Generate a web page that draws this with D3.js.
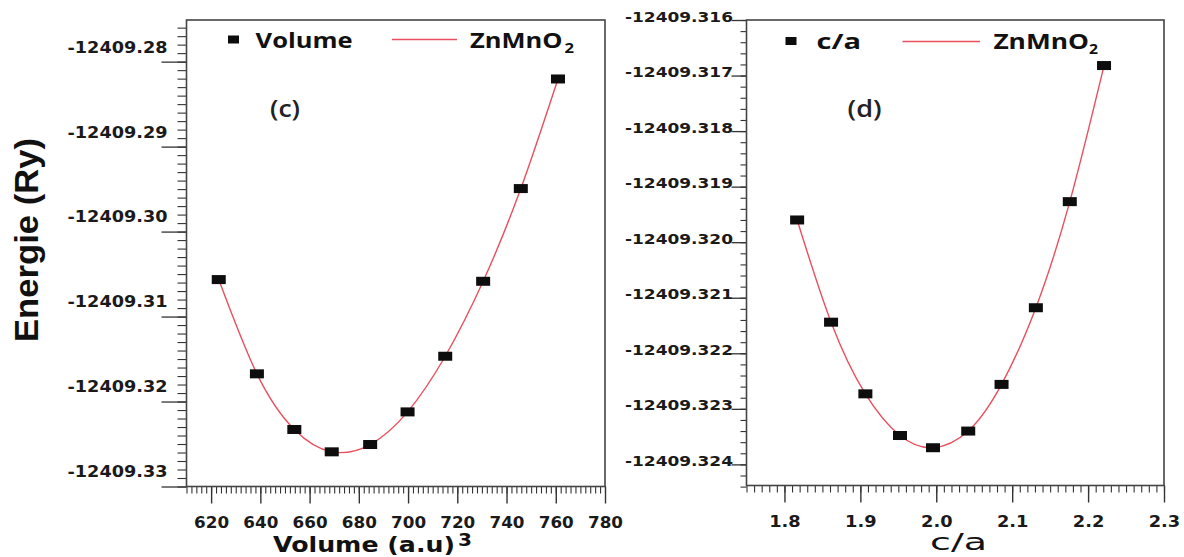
<!DOCTYPE html>
<html><head><meta charset="utf-8">
<script src="https://cdn.jsdelivr.net/npm/d3@7"></script>
<style>body{margin:0;background:#fff}svg{display:block}</style>
</head><body><svg id="c" width="1184" height="557"></svg>
<script>
// ---- data ----
const volume = [623.1, 638.6, 653.8, 669.0, 684.6, 699.8, 715.1, 730.5, 745.8, 760.9];
const energyVolume = [-12409.30565, -12409.31674, -12409.32329, -12409.32592, -12409.32506,
                      -12409.32122, -12409.31467, -12409.30585, -12409.29494, -12409.28204];
const ratioCA = [1.8167, 1.8614, 1.9066, 1.9522, 1.9957, 2.0421, 2.086, 2.1312, 2.1759, 2.221];
const energyCA = [-12409.31960, -12409.32144, -12409.32273, -12409.32348, -12409.32370,
                  -12409.32340, -12409.32256, -12409.32118, -12409.31927, -12409.31682];

// ---- tick labels ----
const volTicks = [620, 640, 660, 680, 700, 720, 740, 760, 780];
const volEnergyTicks = [-12409.28, -12409.29, -12409.30, -12409.31, -12409.32, -12409.33];
const caTicks = [1.8, 1.9, 2.0, 2.1, 2.2, 2.3];
const caEnergyTicks = [-12409.316, -12409.317, -12409.318, -12409.319, -12409.320,
                       -12409.321, -12409.322, -12409.323, -12409.324];

const svg = d3.select("#c");
svg.append("rect").attr("width", 1184).attr("height", 557).attr("fill", "#fff");

const TICK = "#333";
const fmt = spec => { const f = d3.format(spec); return v => f(v).replace("\u2212", "-"); };

function styleText(sel, o) {
  sel.attr("font-family", o.family || "DejaVu Sans")
     .attr("font-weight", o.weight || "bold")
     .attr("font-size", o.size)
     .attr("fill", o.fill || "#1a1a1a");
  if (o.len) sel.attr("textLength", o.len).attr("lengthAdjust", "spacingAndGlyphs");
  return sel;
}

function drawPanel(o) {
  const x = d3.scaleLinear().domain(o.xDomain).range([o.left, o.right]);
  const y = d3.scaleLinear().domain(o.yDomain).range([o.bottom, o.top]);
  const g = svg.append("g");

  // x minor
  g.append("g").attr("transform", `translate(0,${o.bottom})`)
    .call(d3.axisBottom(x).tickValues(o.xMinor).tickSize(7).tickFormat(""))
    .call(s => { s.select(".domain").remove(); s.selectAll("line").attr("stroke", TICK).attr("stroke-width", 1.1); });
  // x major
  const ax = g.append("g").attr("transform", `translate(0,${o.bottom})`)
    .call(d3.axisBottom(x).tickValues(o.xTicks).tickSize(17).tickFormat(o.xFmt));
  ax.select(".domain").remove();
  ax.selectAll("line").attr("stroke", TICK).attr("stroke-width", 1.4);
  styleText(ax.selectAll("text").attr("dy", null).attr("y", 41), {size: 16.5, len: o.xLabelW});

  // y minor
  g.append("g").attr("transform", `translate(${o.left},0)`)
    .call(d3.axisLeft(y).tickValues(o.yMinor).tickSize(o.yMinorLen).tickFormat(""))
    .call(s => { s.select(".domain").remove(); s.selectAll("line").attr("stroke", TICK).attr("stroke-width", 1.1); });
  // y major
  const ay = g.append("g").attr("transform", `translate(${o.left},0)`)
    .call(d3.axisLeft(y).tickValues(o.yTicks).tickSize(o.yMajorLen).tickFormat(o.yFmt));
  ay.select(".domain").remove();
  ay.selectAll("line").attr("stroke", TICK).attr("stroke-width", 1.3);
  styleText(ay.selectAll("text").attr("x", o.yLabelX).attr("y", o.yLabelDy).attr("dy", "0.36em")
    .attr("text-anchor", "end"), {size: o.yLabelSize, len: o.yLabelW});

  // fitted curve
  const pts = o.xs.map((v, i) => [v, o.ys[i]]);
  g.append("path").datum(pts)
    .attr("fill", "none").attr("stroke", "#e9505e").attr("stroke-width", 1.4)
    .attr("d", d3.line().x(d => x(d[0])).y(d => y(d[1])).curve(d3.curveNatural));
  // markers
  g.selectAll("rect.m").data(pts).join("rect").attr("class", "m")
    .attr("x", d => x(d[0]) - 7).attr("y", d => y(d[1]) - 4.5)
    .attr("width", 14).attr("height", 9).attr("fill", "#0d0d0d");

  // frame
  g.append("rect").attr("x", o.left).attr("y", o.top)
    .attr("width", o.right - o.left).attr("height", o.bottom - o.top)
    .attr("fill", "none").attr("stroke", "#444").attr("stroke-width", 1.6);

  // legend
  const L = o.legend;
  g.append("rect").attr("x", L.sq[0] - 5.5).attr("y", L.sq[1] - 4).attr("width", 11).attr("height", 8).attr("fill", "#0d0d0d");
  styleText(g.append("text").attr("x", L.t1[0]).attr("y", L.t1[1]).text(L.label),
    {family: "Open Sans", size: 22, len: L.t1[2], fill: "#111"});
  g.append("line").attr("x1", L.line[0]).attr("x2", L.line[1]).attr("y1", L.line[2]).attr("y2", L.line[2])
    .attr("stroke", "#e9505e").attr("stroke-width", 1.4);
  styleText(g.append("text").attr("x", L.t2[0]).attr("y", L.t2[1]).text("ZnMnO"),
    {family: "Open Sans", size: 22, len: L.t2[2], fill: "#111"});
  styleText(g.append("text").attr("x", L.sub[0]).attr("y", L.sub[1]).text("2"),
    {family: "Open Sans", size: 14, len: L.sub[2], fill: "#111"});
  // panel tag
  styleText(g.append("text").attr("x", o.tag[0]).attr("y", o.tag[1]).text(o.tag[2]),
    {family: "Open Sans", weight: 600, size: 23, len: o.tag[3], fill: "#222"});
}

const volMinor = d3.range(0, 86).map(i => 610 + i * 2);
const volEnergyMinor = d3.range(0, 55).map(i => -12409.33 + i * 0.001);
const caMinor = d3.range(0, 56).map(i => 1.75 + i * 0.01);
const caEnergyMinor = d3.range(0, 43).map(i => -12409.3244 + i * 0.0002);

drawPanel({
  xDomain: [610, 780], yDomain: [-12409.33, -12409.2751],
  left: 186.5, right: 605, top: 20, bottom: 486.5,
  xTicks: volTicks, xMinor: volMinor, xFmt: fmt("d"), xLabelW: 35,
  yTicks: volEnergyTicks, yMinor: volEnergyMinor, yFmt: fmt(".2f"),
  yMajorLen: 25, yMinorLen: 9, yLabelX: -19, yLabelDy: -15, yLabelSize: 15, yLabelW: 100,
  xs: volume, ys: energyVolume,
  legend: {sq: [233.5, 39.5], t1: [255.6, 48, 97], label: "Volume", line: [392, 457, 39.5],
           t2: [470, 48, 92.5], sub: [564.5, 52.5, 9.5]},
  tag: [270, 117, "(c)", 30]
});

drawPanel({
  xDomain: [1.75, 2.3], yDomain: [-12409.32438, -12409.316],
  left: 746.5, right: 1164, top: 20, bottom: 485.5,
  xTicks: caTicks, xMinor: caMinor, xFmt: fmt(".1f"), xLabelW: 31.5,
  yTicks: caEnergyTicks, yMinor: caEnergyMinor, yFmt: fmt(".3f"),
  yMajorLen: 15, yMinorLen: 6, yLabelX: -13.5, yLabelDy: -4, yLabelSize: 14, yLabelW: 108,
  xs: ratioCA, ys: energyCA,
  legend: {sq: [791, 41], t1: [816.5, 49, 44.5], label: "c/a", line: [902.5, 980, 41.5],
           t2: [993.4, 49, 95.5], sub: [1089, 53.5, 9]},
  tag: [847.6, 117, "(d)", 34]
});

// axis titles
styleText(svg.append("text").attr("x", 273).attr("y", 552).text("Volume (a.u)"), {size: 21, len: 182, fill: "#111"});
styleText(svg.append("text").attr("x", 458).attr("y", 546).text("3"), {size: 17, len: 14, fill: "#111"});
styleText(svg.append("text").attr("x", 930).attr("y", 550).text("c/a"), {weight: "normal", size: 23, len: 57, fill: "#111"});
styleText(svg.append("text").attr("transform", "translate(38,240) rotate(-90)")
  .attr("text-anchor", "middle").text("Energie (Ry)"),
  {family: "Liberation Sans", size: 34, len: 204, fill: "#111"});
</script></body></html>
